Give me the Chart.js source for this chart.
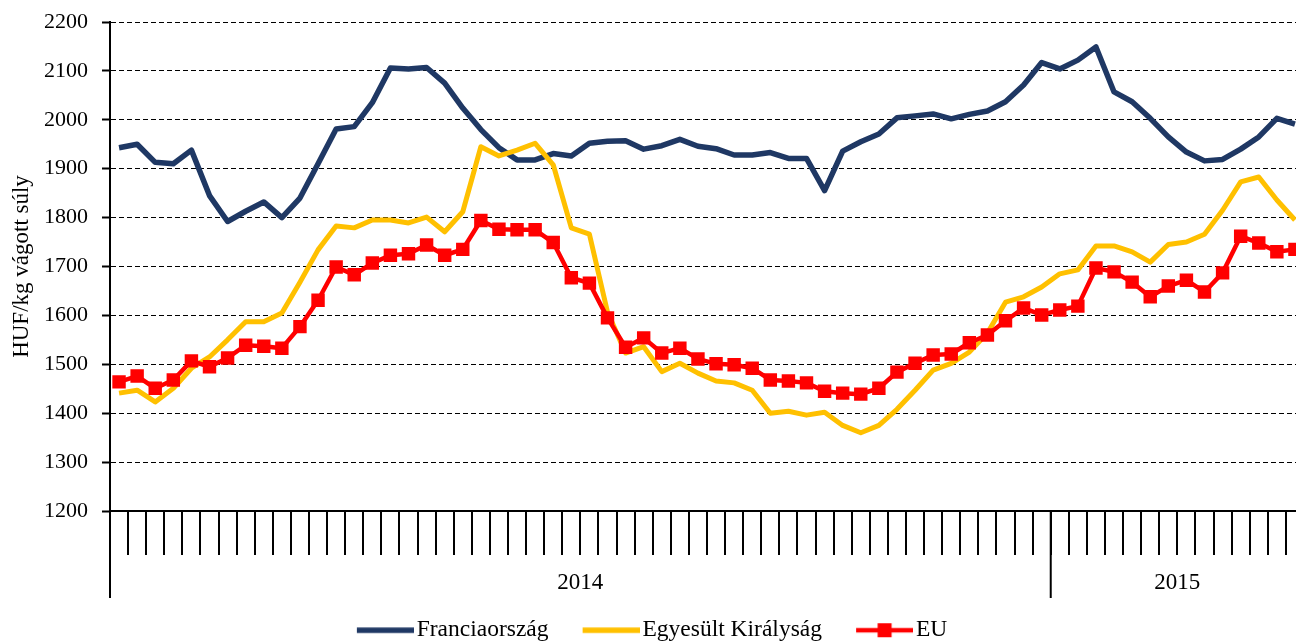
<!DOCTYPE html>
<html>
<head>
<meta charset="utf-8">
<script src="https://cdn.jsdelivr.net/npm/chart.js@4.4.1/dist/chart.umd.min.js"></script>
<style>
  html, body { margin: 0; padding: 0; background: #fff; overflow: hidden; }
  #wrap { position: relative; width: 1304px; height: 643px; }
</style>
</head>
<body>
<div id="wrap"><canvas id="priceChart"></canvas></div>
<script>
// years on the x axis and how many weeks each one has in the chart
const yearLabels = ['2014', '2015'];
const weeksPerYear = [52, 14];

// weekly prices, HUF/kg carcass weight
const franceValues = [
    1943, 1950, 1913, 1910, 1938, 1845, 1792, 1813, 1832, 1800,
    1840, 1910, 1981, 1986, 2035, 2106, 2104, 2107, 2075, 2024,
    1980, 1943, 1918, 1918, 1931, 1926, 1952, 1956, 1957, 1940,
    1947, 1960, 1946, 1941, 1928, 1928, 1933, 1921, 1921, 1855,
    1936, 1955, 1971, 2004, 2008, 2012, 2002, 2011, 2018, 2037,
    2071, 2117, 2104, 2122, 2149, 2057, 2037, 2003, 1965, 1934,
    1916, 1919, 1940, 1965, 2003, 1991
];
const ukValues = [
    1441, 1447, 1423, 1451, 1492, 1515, 1550, 1587, 1587, 1605,
    1668, 1734, 1783, 1779, 1795, 1795, 1789, 1801, 1771, 1812,
    1945, 1926, 1938, 1952, 1908, 1779, 1766, 1607, 1523, 1536,
    1485, 1502, 1482, 1466, 1462, 1447, 1400, 1404, 1396, 1402,
    1375, 1360, 1375, 1408, 1447, 1488, 1502, 1525, 1564, 1627,
    1638, 1658, 1685, 1693, 1742, 1742, 1730, 1709, 1745, 1750,
    1766, 1815, 1873, 1883, 1836, 1795
];
const euValues = [
    1464, 1476, 1451, 1468, 1507, 1495, 1513, 1539, 1537, 1533,
    1577, 1631, 1699, 1683, 1707, 1723, 1726, 1744, 1723, 1735,
    1794, 1776, 1775, 1775, 1749, 1677, 1666, 1595, 1535, 1554,
    1523, 1533, 1511, 1501, 1499, 1492, 1468, 1466, 1462, 1445,
    1441, 1439, 1451, 1484, 1502, 1519, 1521, 1544, 1560, 1589,
    1615, 1601, 1611, 1619, 1697, 1689, 1668, 1638, 1660, 1672,
    1648, 1687, 1762, 1748, 1730, 1735
];

const yMin = 1200;
const yMax = 2200;
const yStep = 100;

const serif = 'Liberation Serif';

// one category per week
const weekLabels = [];
yearLabels.forEach((year, i) => {
    for (let w = 1; w <= weeksPerYear[i]; w++) {
        weekLabels.push(year + '. ' + w + '. hét');
    }
});

// legend samples: a thick line, EU also gets its square marker
function legendSample(color, lineWidth, marker) {
    const c = document.createElement('canvas');
    c.width = 66;
    c.height = 16;
    const g = c.getContext('2d');
    g.strokeStyle = color;
    g.lineWidth = lineWidth;
    g.beginPath();
    g.moveTo(9, 8);
    g.lineTo(66, 8);
    g.stroke();
    if (marker) {
        g.fillStyle = color;
        g.fillRect(37.5 - 7, 8 - 7, 14, 14);
    }
    return c;
}
const legendSamples = [
    legendSample('#1F3864', 5.5, false),
    legendSample('#FFC000', 5.5, false),
    legendSample('#FF0000', 4.5, true)
];

// year labels under the weekly ticks, with the long separator lines
const yearAxis = {
    id: 'yearAxis',
    afterDraw(chart) {
        const x = chart.scales.x;
        const bottom = chart.chartArea.bottom;
        const ctx = chart.ctx;
        ctx.save();
        ctx.strokeStyle = '#000';
        ctx.lineWidth = 2;
        ctx.fillStyle = '#000';
        ctx.font = '23px "' + serif + '"';
        ctx.textAlign = 'center';
        ctx.textBaseline = 'middle';
        let start = 0;
        yearLabels.forEach((year, i) => {
            const left = x.getPixelForValue(start - 0.5);
            const right = x.getPixelForValue(start + weeksPerYear[i] - 0.5);
            ctx.beginPath();
            ctx.moveTo(left, bottom);
            ctx.lineTo(left, bottom + 87);
            ctx.stroke();
            ctx.fillText(year, (left + right) / 2, bottom + 72);
            start += weeksPerYear[i];
        });
        ctx.restore();
    }
};

new Chart(document.getElementById('priceChart'), {
    type: 'line',
    data: {
        labels: weekLabels,
        datasets: [{
            label: 'Franciaország',
            data: franceValues,
            borderColor: '#1F3864',
            backgroundColor: '#1F3864',
            borderWidth: 5.5,
            pointRadius: 0,
            borderJoinStyle: 'round',
            order: 3
        }, {
            label: 'Egyesült Királyság',
            data: ukValues,
            borderColor: '#FFC000',
            backgroundColor: '#FFC000',
            borderWidth: 5,
            pointRadius: 0,
            borderJoinStyle: 'round',
            order: 2
        }, {
            label: 'EU',
            data: euValues,
            borderColor: '#FF0000',
            backgroundColor: '#FF0000',
            borderWidth: 4.5,
            pointStyle: 'rect',
            pointRadius: 9.5,
            pointBorderWidth: 0,
            pointBackgroundColor: '#FF0000',
            borderJoinStyle: 'round',
            order: 1
        }]
    },
    options: {
        responsive: true,
        maintainAspectRatio: false,
        animation: false,
        events: [],
        layout: {
            autoPadding: false,
            padding: { top: 22, left: 0, right: 0, bottom: -9 }
        },
        plugins: {
            tooltip: { enabled: false },
            legend: {
                position: 'bottom',
                labels: {
                    color: '#000',
                    font: { family: serif, size: 23.5 },
                    usePointStyle: true,
                    pointStyleWidth: 48.25,
                    padding: 34,
                    sort: (a, b) => a.datasetIndex - b.datasetIndex,
                    generateLabels: chart => Chart.defaults.plugins.legend.labels.generateLabels(chart).map(item => {
                        item.pointStyle = legendSamples[item.datasetIndex];
                        return item;
                    })
                }
            }
        },
        scales: {
            x: {
                offset: true,
                ticks: { display: false, autoSkip: false },
                grid: {
                    offset: true,
                    drawOnChartArea: false,
                    drawTicks: true,
                    tickLength: 44,
                    color: '#000',
                    lineWidth: 2
                },
                border: { display: true, color: '#000', width: 2 },
                afterFit: scale => { scale.height = 73.5; }
            },
            y: {
                min: yMin,
                max: yMax,
                ticks: {
                    stepSize: yStep,
                    color: '#000',
                    font: { family: serif, size: 22 },
                    padding: 14,
                    callback: value => String(value)
                },
                grid: {
                    color: '#000',
                    lineWidth: 1,
                    tickLength: 8,
                    tickWidth: 2,
                    tickColor: '#000',
                    tickBorderDash: []
                },
                border: { display: true, color: '#000', width: 2, dash: [5, 3] },
                title: {
                    display: true,
                    text: 'HUF/kg vágott súly',
                    color: '#000',
                    font: { family: serif, size: 23 },
                    padding: { top: 8, bottom: 0 }
                },
                afterFit: scale => {
                    scale.width = 110;
                    scale.paddingTop = 0;
                    scale.paddingBottom = 0;
                }
            }
        }
    },
    plugins: [yearAxis]
});
</script>
</body>
</html>
